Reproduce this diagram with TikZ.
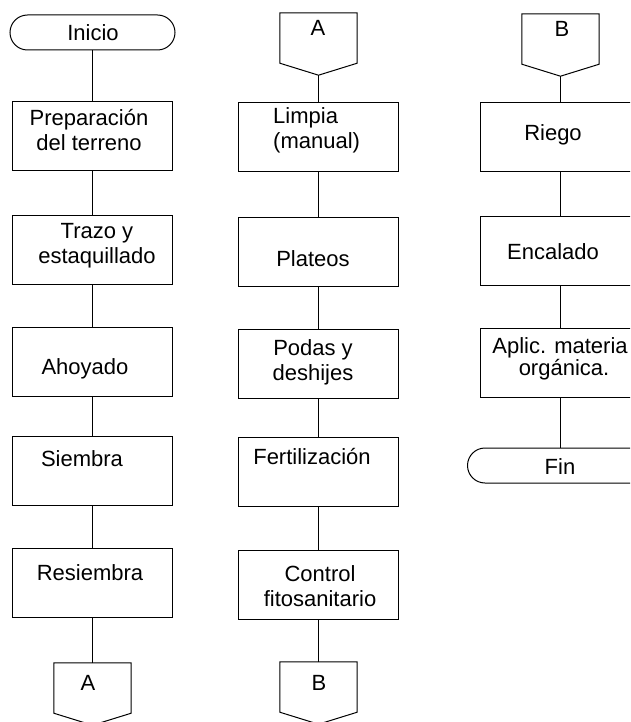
\documentclass[tikz,border=0pt]{standalone}
\usepackage{fontspec}
\setmainfont{Liberation Sans}
\usepackage{tikz}
\usetikzlibrary{shapes.misc,positioning}

\tikzset{
    procbox/.style={rectangle,draw,line width=1pt,minimum width=160pt,minimum height=69pt,inner sep=0pt},
    termbox/.style={rounded rectangle,draw,line width=1pt,minimum height=35pt,inner sep=0pt},
    offpage/.style={rectangle,minimum width=77pt,minimum height=50pt,inner sep=0pt},
    txt/.style={font=\fontsize{22}{25}\selectfont,align=center,inner sep=0pt},
    flow/.style={line width=1pt}
}

\begin{document}
\begin{tikzpicture}[x=1pt,y=-1pt]
        \useasboundingbox (0,0) rectangle (630,722);
        \clip (0,0) rectangle (630,722);

        % Column 1
        \node[termbox,minimum width=165pt] (inicio) at (92.5,32.5) {};
        \node[txt] (inicioT) at (93,33) {Inicio};
        \node[procbox] (prep) at (92.5,136.5) {};
        \node[txt] (prepT) at (89,130.5) {Preparación\\del terreno};
        \node[procbox] (trazo) at (92.5,250) {};
        \node[txt] (trazoT) at (97,246) {Trazo y\\estaquillado};
        \node[procbox] (ahoyado) at (92.5,361.5) {};
        \node[txt] (ahoyadoT) at (85,369) {Ahoyado};
        \node[procbox] (siembra) at (92.5,471) {};
        \node[txt] (siembraT) at (82,459) {Siembra};
        \node[procbox] (resiembra) at (92.5,583) {};
        \node[txt] (resiembraT) at (90,573) {Resiembra};
        \node[offpage] (outA) at (92.5,688) {};
        \node[txt] (outAT) at (88,683) {A};

        % Column 2
        \node[offpage] (inA) at (318.5,38) {};
        \node[txt] (inAT) at (318,28) {A};
        \node[procbox] (limpia) at (318.5,137.5) {};
        \node[txt,align=left,anchor=west] (limpiaT) at (273,130.5) {Limpia\\(manual)};
        \node[procbox] (plateos) at (318.5,252) {};
        \node[txt] (plateosT) at (313,259) {Plateos};
        \node[procbox] (podas) at (318.5,363.5) {};
        \node[txt] (podasT) at (313,362.5) {Podas y\\deshijes};
        \node[procbox] (fert) at (318.5,472) {};
        \node[txt] (fertT) at (312,457) {Fertilización};
        \node[procbox] (control) at (318.5,585) {};
        \node[txt] (controlT) at (320,586.5) {Control\\fitosanitario};
        \node[offpage] (outB) at (318.5,687) {};
        \node[txt] (outBT) at (319,683) {B};

        % Column 3
        \node[offpage] (inB) at (560.5,39) {};
        \node[txt] (inBT) at (562,29) {B};
        \node[procbox] (riego) at (560.5,137.5) {};
        \node[txt] (riegoT) at (553,135) {Riego};
        \node[procbox] (encalado) at (560.5,251) {};
        \node[txt] (encaladoT) at (553,252) {Encalado};
        \node[procbox] (aplic) at (560.5,363) {};
        \node[txt] (aplicT) at (560,359) {Aplic. materia\\[-3pt]\hspace*{8pt}orgánica.};
        \node[termbox,minimum width=186pt] (fin) at (560.5,465.5) {};
        \node[txt] (finT) at (560,467) {Fin};

        % Off-page connector outlines
        \foreach \c in {outA,inA,outB,inB}
            \draw[flow,line join=miter] (\c.north west) -- (\c.north east) -- (\c.south east)
                -- ([yshift=-12pt]\c.south) -- (\c.south west) -- cycle;

        % Connectors
        \draw[flow] (inicio) -- (prep);
        \draw[flow] (prep) -- (trazo);
        \draw[flow] (trazo) -- (ahoyado);
        \draw[flow] (ahoyado) -- (siembra);
        \draw[flow] (siembra) -- (resiembra);
        \draw[flow] (resiembra) -- (outA);
        \draw[flow] ([yshift=-12pt]inA.south) -- (limpia);
        \draw[flow] (limpia) -- (plateos);
        \draw[flow] (plateos) -- (podas);
        \draw[flow] (podas) -- (fert);
        \draw[flow] (fert) -- (control);
        \draw[flow] (control) -- (outB);
        \draw[flow] ([yshift=-12pt]inB.south) -- (riego);
        \draw[flow] (riego) -- (encalado);
        \draw[flow] (encalado) -- (aplic);
        \draw[flow] (aplic) -- (fin);
    \end{tikzpicture}
\end{document}
